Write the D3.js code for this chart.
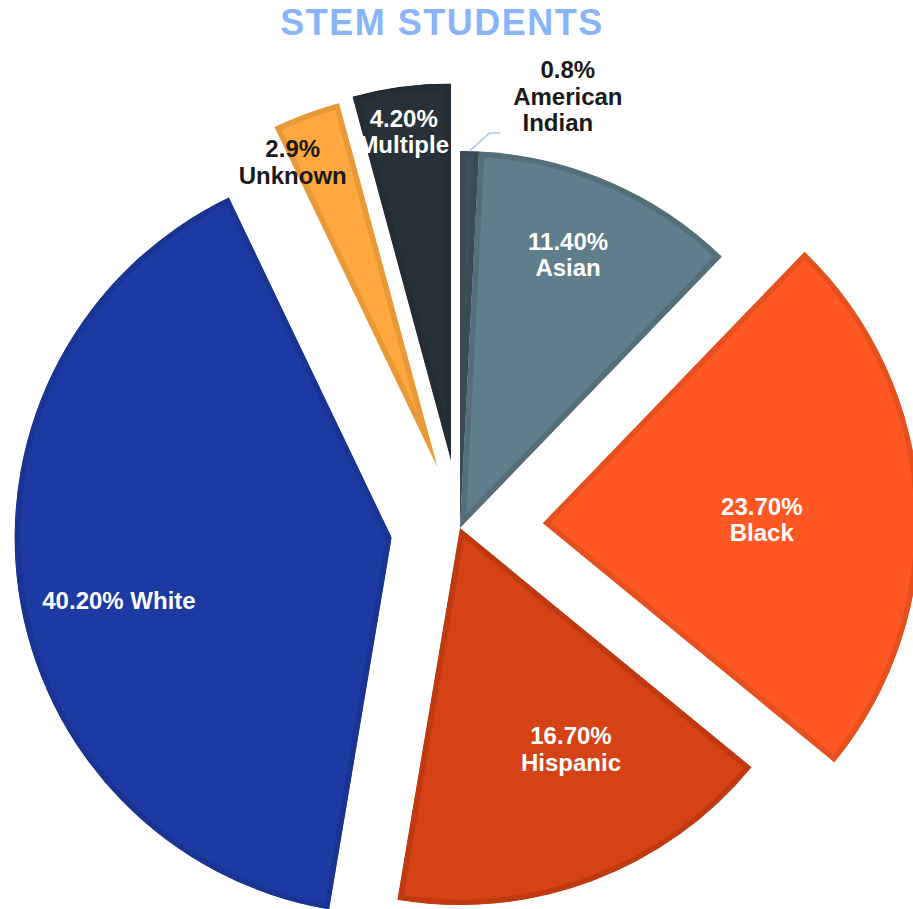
<!DOCTYPE html>
<html>
<head>
<meta charset="utf-8">
<script src="https://cdn.jsdelivr.net/npm/d3@7"></script>
<style>
  body { margin: 0; background: #ffffff; }
  svg { display: block; }
  text { font-family: "Liberation Sans", Arial, Helvetica, sans-serif; font-weight: bold; }
</style>
</head>
<body>
<svg id="chart" width="913" height="909"></svg>
<script>
// Share of STEM students by group, clockwise from 12 o'clock
const categories  = ["American Indian", "Asian", "Black", "Hispanic", "White", "Unknown", "Multiple"];
const values      = [0.8, 11.4, 23.7, 16.7, 40.2, 2.9, 4.2];
const valueLabels = ["0.8%", "11.40%", "23.70%", "16.70%", "40.20%", "2.9%", "4.20%"];
const titleText   = "STEM STUDENTS";

// Palette: fill and darker edge for each slice
const fillColors   = ["#3e5059", "#607d8b", "#ff5722", "#d54215", "#1d3aa3", "#ffa840", "#263238"];
const strokeColors = ["#3a4b54", "#546e7a", "#e6501f", "#bf3a10", "#1a3493", "#e89a38", "#232d33"];

const svg = d3.select("#chart");
const cx = 460, cy = 528, R = 377;

const rows = categories.map((c, i) => ({
  category: c, value: values[i], valueLabel: valueLabels[i],
  fill: fillColors[i], stroke: strokeColors[i]
}));

const pie = d3.pie().sort(null).value(d => d.value).startAngle(0).endAngle(2 * Math.PI);
const arc = d3.arc().innerRadius(0).outerRadius(R);
const arcs = pie(rows);

// Pulled-out distance per slice
const explode = { "Black": 83, "White": 69, "Unknown": 65, "Multiple": 68 };
const polar = (r, a) => [r * Math.sin(a), -r * Math.cos(a)];
const deg = Math.PI / 180;

arcs.forEach(d => {
  const mid = (d.startAngle + d.endAngle) / 2;
  const off = explode[d.data.category] || 0;
  const [ox, oy] = polar(off, mid);
  d.ox = cx + ox; d.oy = cy + oy;
});

// Title
svg.append("text")
  .attr("x", 442).attr("y", 35)
  .attr("text-anchor", "middle")
  .attr("font-size", 36)
  .attr("letter-spacing", 1.5)
  .attr("fill", "#8ab4f8")
  .text(titleText);

const defs = svg.append("defs");
const g = svg.append("g");

arcs.forEach((d, i) => {
  const path = arc(d);
  defs.append("clipPath").attr("id", "clip" + i)
    .append("path").attr("d", path);
  g.append("g")
    .attr("transform", `translate(${d.ox},${d.oy})`)
    .append("path")
    .attr("d", path)
    .attr("fill", d.data.fill)
    .attr("stroke", d.data.stroke)
    .attr("stroke-width", 11)
    .attr("clip-path", `url(#clip${i})`);
});

// Leader line for the thin American Indian slice
const ai = arcs[0];
const aiMid = (ai.startAngle + ai.endAngle) / 2;
const [sx, sy] = polar(R, aiMid);
const p0 = [ai.ox + sx, ai.oy + sy];
const p1 = [p0[0] + 20, p0[1] - 18];
const p2 = [p1[0] + 11, p1[1]];
svg.append("path")
  .attr("d", d3.line()([p0, p1, p2]))
  .attr("fill", "none")
  .attr("stroke", "#a9c8f6")
  .attr("stroke-width", 1.5);

// Label placement: radius and angle (degrees) from each slice's apex
const labelPlace = {
  "American Indian": { r: 436.6, a: 14.3, color: "#1a1a1a", lines: d => [d.valueLabel, "American", "Indian"], dx: [0, 0, -10] },
  "Asian":    { r: 286, a: 22.2,  color: "#ffffff", lines: d => [d.valueLabel, d.category] },
  "Black":    { r: 219, a: 91.3,  color: "#ffffff", lines: d => [d.valueLabel, d.category] },
  "Hispanic": { r: 255, a: 154.2, color: "#ffffff", lines: d => [d.valueLabel, d.category] },
  "White":    { r: 281.8, a: 255.4, color: "#ffffff", lines: d => [d.valueLabel + " " + d.category] },
  "Unknown":  { r: 330, a: 334.0, color: "#1a1a1a", lines: d => [d.valueLabel, d.category] },
  "Multiple": { r: 324, a: 351.6, color: "#ffffff", lines: d => [d.valueLabel, d.category] }
};

const lh = 26.5;
arcs.forEach(d => {
  const L = labelPlace[d.data.category];
  const [lx, ly] = polar(L.r, L.a * deg);
  const x = d.ox + lx, y = d.oy + ly;
  const lines = L.lines(d.data);
  const t = svg.append("text")
    .attr("text-anchor", "middle")
    .attr("font-size", 24)
    .attr("fill", L.color);
  lines.forEach((s, k) => {
    t.append("tspan")
      .attr("x", x + (L.dx ? L.dx[k] : 0))
      .attr("y", y + (k - (lines.length - 1) / 2) * lh)
      .text(s);
  });
});
</script>
</body>
</html>
